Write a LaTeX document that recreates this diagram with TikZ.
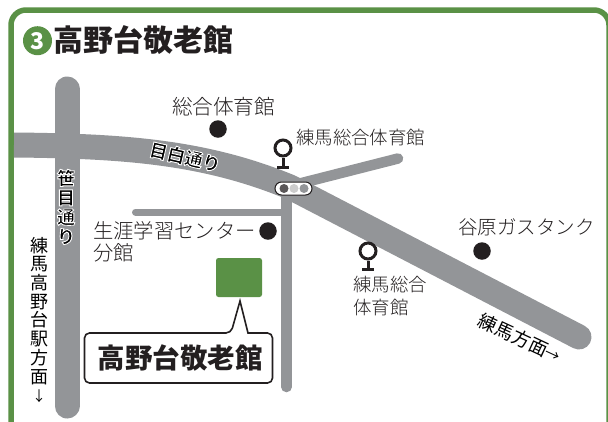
\documentclass[tikz,border=0pt]{standalone}
\usepackage{fontspec}
\setmainfont{Noto Sans CJK JP}[BoldFont={Noto Sans CJK JP Bold}]
\newfontfamily\cjklight{Noto Sans CJK JP Light}
\newfontfamily\cjkmedium{Noto Sans CJK JP Medium}
\newfontfamily\cjkblack{Noto Sans CJK JP Black}
\definecolor{framegreen}{HTML}{5A9146}
\definecolor{roadgray}{HTML}{939598}
\definecolor{inkblack}{HTML}{231F20}
\newcommand{\fsz}[2]{\fontsize{#1}{#2}\selectfont}
\newcommand{\halotext}[1]{\special{pdf:code q 2 Tr 0.9 w 1 1 1 RG}#1\special{pdf:code Q}}
\tikzset{
  road/.style={draw=roadgray,line cap=round,line join=round},
  landmark/.style={circle,fill=inkblack,minimum size=17.5pt,inner sep=0pt},
  lbl/.style={inner sep=0pt,text=inkblack,font=\cjklight\fsz{20.3}{22},anchor=west},
  lblsmall/.style={lbl,font=\cjklight\fsz{18.4}{22}},
  roadname/.style={inner sep=0pt,text=black,font=\cjkblack\fsz{18}{19.5}},
  signaldot/.style={circle,minimum size=9pt,inner sep=0pt},
  pinring/.style={circle,draw=inkblack,fill=white,line width=3pt,minimum size=16pt,inner sep=0pt},
  pinstem/.style={draw=inkblack,line width=3pt},
}
\begin{document}
\begin{tikzpicture}[x=1pt,y=-1pt]
\useasboundingbox (0,0) rectangle (608,421);
\begin{scope}
\clip (0,0) rectangle (608,421);
\fill[white] (0,0) rectangle (608,421);
\draw[framegreen,line width=5.5pt,rounded corners=15pt] (11,426) -- (11,10) -- (609,10) -- (609,426);
\end{scope}
% roads
\draw[road,line width=25pt,line cap=butt] (14,145) .. controls (125,146) and (205,152) .. (290,187);
\draw[road,line width=25pt] (290,187) -- (579,337);
\draw[road,line width=25pt] (67,89) -- (67,406);
\draw[road,line width=10.5pt] (286,187) -- (398,158.5);
\draw[road,line width=10.5pt] (286.5,187) -- (286.5,387);
\draw[road,line width=7pt] (135.5,212) -- (286.5,212);
% title
\node[circle,fill=framegreen,minimum size=29pt,inner sep=0pt,text=white,font=\cjkblack\fsz{23}{23}] (num) at (37.5,40.7) {3};
\node[inner sep=0pt,anchor=west,font=\cjkblack\fsz{30}{30},text=inkblack] (title) at (53,40) {高野台敬老館};
% landmarks
\node[landmark] (d1) at (218,129) {};
\node[landmark] (d2) at (268,231) {};
\node[landmark] (d3) at (482,251) {};
\node[lbl,anchor=center,font=\cjklight\fsz{20.6}{22}] (t1) at (223.5,107) {総合体育館};
\node[lblsmall] (t2) at (296,138) {練馬総合体育館};
\node[lbl] (t3) at (93,231) {生涯学習センター};
\node[lbl] (t3b) at (93,253) {分館};
\node[lbl,font=\cjklight\fsz{19.5}{22}] (t4) at (458,227) {谷原ガスタンク};
\node[lblsmall] (t5) at (353,285) {練馬総合};
\node[lblsmall] (t5b) at (353,307) {体育館};
% pins
\node[pinring] (p1) at (283,148) {};
\coordinate (p1b) at (283,167);
\draw[pinstem] (p1) -- (p1b);
\draw[pinstem] (277,167) -- (289,167);
\node[pinring] (p2) at (368,251) {};
\coordinate (p2b) at (368,269);
\draw[pinstem] (p2) -- (p2b);
\draw[pinstem] (362,269) -- (374,269);
% signal
\node[draw=inkblack,fill=white,line width=1pt,rounded corners=6.5pt,minimum width=37pt,minimum height=13pt,inner sep=0pt] (sig) at (293.5,188.5) {};
\node[signaldot,fill=inkblack!75] (s1) at (284,188.5) {};
\node[signaldot,fill=black!20] (s2) at (294,188.5) {};
\node[signaldot,fill=roadgray] (s3) at (304,188.5) {};
% road names
\node[roadname,rotate=-13] (r1) at (185,157) {\halotext{目白通り}};
\node[roadname,align=center] (r2) at (66,207) {\halotext{笹}\\\halotext{目}\\\halotext{通}\\\halotext{り}};
\node[inner sep=0pt,align=center,text=black,font=\fsz{18}{18.7}] (r3) at (39,320) {練\\馬\\高\\野\\台\\駅\\方\\面\\{\fsz{14}{18.7}↓}};
\node[inner sep=0pt,rotate=-25,text=black,font=\fsz{18.5}{18}] (r4) at (520,338) {練馬方面{\fsz{15}{18}→}};
% target
\node[rectangle,rounded corners=2.5pt,fill=framegreen,minimum width=46pt,minimum height=39pt,inner sep=0pt] (home) at (239,277.5) {};
\draw[draw=inkblack,fill=white,line width=1.6pt] (231,333) [sharp corners] -- (240,301) -- (248,333) [rounded corners=5pt] -- (272.5,333) -- (272.5,383) -- (84.5,383) -- (84.5,333) -- cycle;
\node[inner sep=0pt,font=\cjkblack\fsz{27.5}{28},text=inkblack] (cap) at (180,358) {高野台敬老館};
\end{tikzpicture}
\end{document}
